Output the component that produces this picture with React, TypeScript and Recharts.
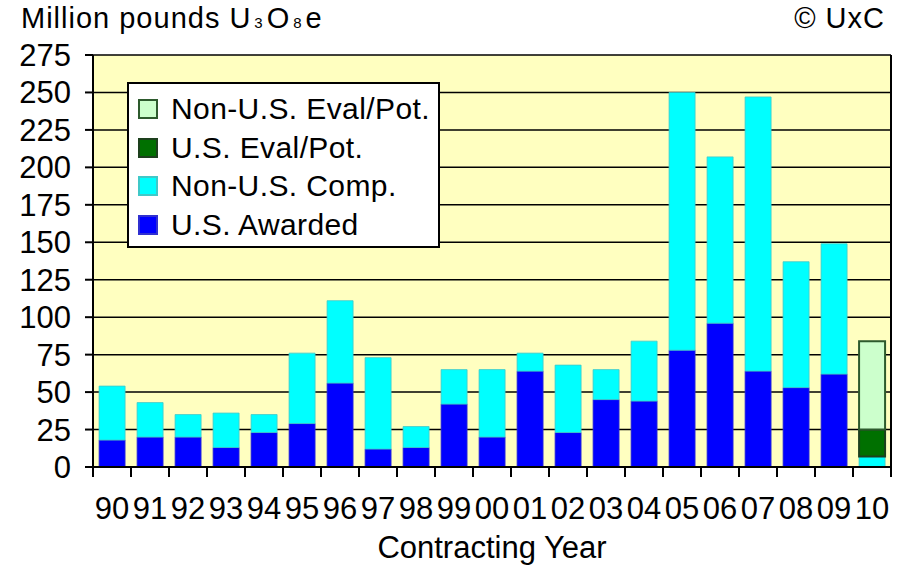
import React from "react";
import { BarChart, Bar, XAxis, YAxis, CartesianGrid, Legend } from "recharts";

// ─── Data (million pounds U3O8e) ─────────────────────────────────
const years = ["90", "91", "92", "93", "94", "95", "96", "97", "98", "99", "00", "01", "02", "03", "04", "05", "06", "07", "08", "09", "10"];
const usAwarded = [18, 20, 20, 13, 23, 29, 56, 12, 13, 42, 20, 64, 23, 45, 44, 78, 96, 64, 53, 62, 0];
const nonUsComp = [36, 23, 15, 23, 12, 47, 55, 61, 14, 23, 45, 12, 45, 20, 40, 172, 111, 183, 84, 87, 7];
const usEval = [0, 0, 0, 0, 0, 0, 0, 0, 0, 0, 0, 0, 0, 0, 0, 0, 0, 0, 0, 0, 18];
const nonUsEval = [0, 0, 0, 0, 0, 0, 0, 0, 0, 0, 0, 0, 0, 0, 0, 0, 0, 0, 0, 0, 59];
const yTicks = [0, 25, 50, 75, 100, 125, 150, 175, 200, 225, 250, 275];

const data = years.map((year, i) => ({
  year,
  usAwarded: usAwarded[i],
  nonUsComp: nonUsComp[i],
  usEval: usEval[i],
  nonUsEval: nonUsEval[i],
}));

// stacking order, bottom to top
const series = [
  { key: "usAwarded", name: "U.S. Awarded", fill: "#0000FF", stroke: "#3030d0" },
  { key: "nonUsComp", name: "Non-U.S. Comp.", fill: "#00FFFF", stroke: "#40c8c8" },
  { key: "usEval", name: "U.S. Eval/Pot.", fill: "#007000", stroke: "#1d401d" },
  { key: "nonUsEval", name: "Non-U.S. Eval/Pot.", fill: "#CCFFCC", stroke: "#2d5a2d" },
];

const FONT = "'Liberation Sans', Arial, sans-serif";
const W = 899;
const H = 574;
const Y_AXIS_W = 93;
const RIGHT_AXIS_W = 8;
const LABEL_GAP = 30; // axis line -> top of year labels
const TICK_LEN = 10;

// category labels centred, tick marks on the category boundaries
const YearTick = (props: any) => {
  const x = Number(props.x);
  const y = Number(props.y);
  const half = Number(props.payload?.offset) || (W - Y_AXIS_W - RIGHT_AXIS_W) / years.length / 2;
  const top = y - LABEL_GAP;
  const last = props.index === years.length - 1;
  return (
    <g>
      <path
        d={`M${x - half},${top}v${TICK_LEN}` + (last ? `M${x + half},${top}v${TICK_LEN}` : "")}
        stroke="#000"
        strokeWidth={2}
        fill="none"
      />
      <text x={x} y={y} dy="0.71em" textAnchor="middle" fontSize={31} fontFamily={FONT} fill="#000">
        {props.payload.value}
      </text>
    </g>
  );
};

const LegendBox = () => (
  <div
    style={{
      width: 313,
      height: 166,
      background: "#fff",
      border: "2px solid #000",
      boxSizing: "border-box",
      padding: "6px 0 0 9px",
      fontFamily: FONT,
      fontSize: 30,
      letterSpacing: 0.4,
      color: "#000",
    }}
  >
    {[...series].reverse().map((s) => (
      <div key={s.key} style={{ display: "flex", alignItems: "center", height: 38.5 }}>
        <span
          style={{
            width: 20,
            height: 20,
            background: s.fill,
            border: `2px solid ${s.stroke}`,
            boxSizing: "border-box",
            marginRight: 13,
            flexShrink: 0,
          }}
        />
        <span style={{ whiteSpace: "nowrap" }}>{s.name}</span>
      </div>
    ))}
  </div>
);

export default function App() {
  return (
    <div style={{ position: "absolute", left: 0, top: 0, width: W, height: H, background: "#fff", fontFamily: FONT }}>
      <div style={{ position: "absolute", left: 21, top: 1, fontSize: 29, lineHeight: "34px", color: "#000", whiteSpace: "nowrap", letterSpacing: 1 }}>
        Million pounds
        <span style={{ marginLeft: 9, letterSpacing: 4 }}>
          U<span style={{ fontSize: 15 }}>3</span>O<span style={{ fontSize: 15 }}>8</span>e
        </span>
      </div>
      <div style={{ position: "absolute", right: 14, top: 1, fontSize: 29, lineHeight: "34px", color: "#000", letterSpacing: 1 }}>
        © UxC
      </div>
      <BarChart
        width={W}
        height={H}
        data={data}
        margin={{ top: 55, right: 0, left: 0, bottom: 0 }}
        barCategoryGap="16%"
      >
        <CartesianGrid vertical={false} stroke="#000" strokeWidth={1.5} fill="#FFFFC0" fillOpacity={1} />
        <XAxis
          dataKey="year"
          height={107}
          axisLine={{ stroke: "#000", strokeWidth: 2 }}
          tickLine={false}
          tickSize={0}
          tickMargin={LABEL_GAP}
          interval={0}
          tick={YearTick}
          label={{ value: "Contracting Year", position: "insideBottom", offset: 16, fontSize: 31, fontFamily: FONT, fill: "#000" }}
        />
        <YAxis
          width={Y_AXIS_W}
          domain={[0, 275]}
          ticks={yTicks}
          interval={0}
          axisLine={{ stroke: "#000", strokeWidth: 2 }}
          tickLine={{ stroke: "#000", strokeWidth: 2 }}
          tickSize={8}
          tickMargin={14}
          tick={{ fontSize: 31, fontFamily: FONT, fill: "#000" }}
        />
        <YAxis
          yAxisId="right"
          orientation="right"
          width={RIGHT_AXIS_W}
          domain={[0, 275]}
          tick={false}
          tickLine={false}
          axisLine={{ stroke: "#000", strokeWidth: 2 }}
        />
        {series.map((s) => (
          <Bar
            key={s.key}
            dataKey={s.key}
            name={s.name}
            stackId="a"
            fill={s.fill}
            stroke={s.stroke}
            strokeWidth={s.key.includes("Eval") ? 2 : 0.8}
            isAnimationActive={false}
          />
        ))}
        <Legend
          layout="vertical"
          align="center"
          verticalAlign="middle"
          wrapperStyle={{ left: 127, top: 82, width: 313 }}
          content={<LegendBox />}
        />
      </BarChart>
    </div>
  );
}
